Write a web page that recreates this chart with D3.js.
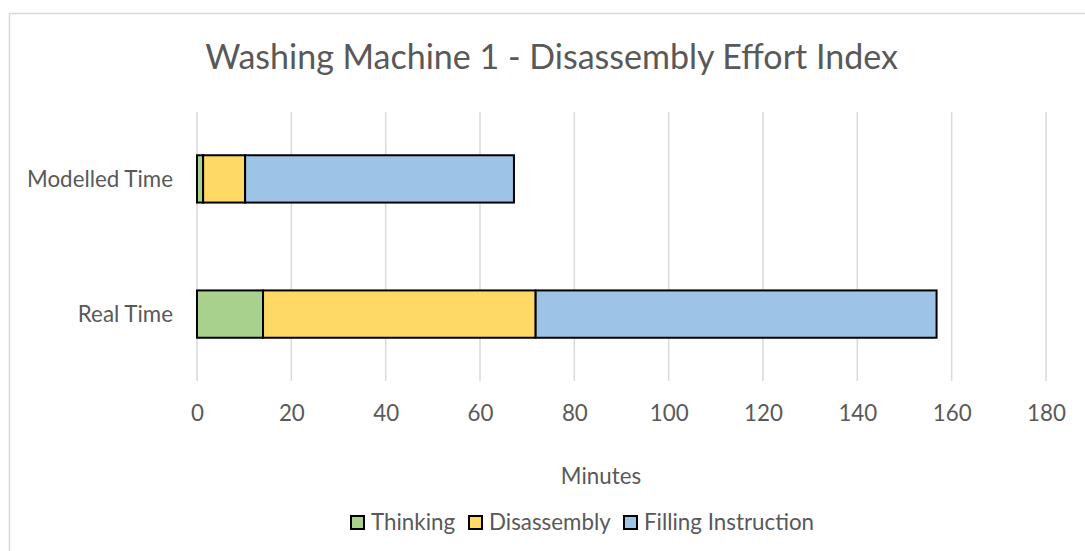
<!DOCTYPE html>
<html><head><meta charset="utf-8">
<script src="https://cdn.jsdelivr.net/npm/d3@7"></script>
<style>body{margin:0;background:#fff;}svg{display:block;}text{font-family:Lato,"Open Sans",sans-serif;fill:#595959;}</style>
</head><body><svg id="c" width="1085" height="551"></svg>
<script>
const categories = ["Modelled Time", "Real Time"];
const seriesNames = ["Thinking", "Disassembly", "Filling Instruction"];
const thinking = [1.3, 14.0];
const disassembly = [8.9, 57.8];
const filling = [57.0, 85.0];
const xTicks = [0, 20, 40, 60, 80, 100, 120, 140, 160, 180];
const colors = ["#a9d18e", "#ffd966", "#9dc3e6"];

const svg = d3.select("#c");
const FONT = 'Lato,"Open Sans",sans-serif';

// measure helper to size Lato text like the reference's Calibri
function fitSize(str, target) {
  const t = svg.append("text").attr("font-size", 100).style("font-family", FONT).text(str);
  const w = t.node().getComputedTextLength();
  t.remove();
  return 100 * target / w;
}
const titleSize = fitSize("Washing Machine 1 - Disassembly Effort Index", 693);
const labelSize = fitSize("Modelled Time", 146);

svg.append("rect").attr("x", 9.5).attr("y", 13.5).attr("width", 1100).attr("height", 600)
  .attr("fill", "#fff").attr("stroke", "#d9d9d9").attr("stroke-width", 1.5);

const x = d3.scaleLinear().domain([0, 180]).range([197, 1046]);
const y = d3.scaleBand().domain(categories).range([112, 381]).paddingInner(0.65).paddingOuter(0.32);

// gridlines
svg.append("g").selectAll("line").data(xTicks).join("line")
  .attr("x1", d => x(d)).attr("x2", d => x(d))
  .attr("y1", 112).attr("y2", 381).attr("stroke", "#d9d9d9").attr("stroke-width", 1.5);

const stackData = categories.map((c, i) => ({cat: c, Thinking: thinking[i], Disassembly: disassembly[i], "Filling Instruction": filling[i]}));
const stack = d3.stack().keys(seriesNames)(stackData);

svg.append("g").selectAll("g").data(stack).join("g")
  .attr("fill", (d, i) => colors[i])
  .selectAll("rect").data(d => d).join("rect")
  .attr("x", d => x(d[0])).attr("width", d => x(d[1]) - x(d[0]))
  .attr("y", d => y(d.data.cat)).attr("height", y.bandwidth())
  .attr("stroke", "#000").attr("stroke-width", 2);

// x axis labels
const xAxis = d3.axisBottom(x).tickValues(xTicks).tickSize(0).tickPadding(0);
const gx = svg.append("g").attr("transform", "translate(0,421)").call(xAxis);
gx.select(".domain").remove();
gx.selectAll("text").attr("font-size", labelSize).attr("dy", 0).attr("y", 0)
  .style("font-family", FONT).attr("fill", "#595959");

// y axis labels
const yAxis = d3.axisLeft(y).tickSize(0).tickPadding(0);
const gy = svg.append("g").attr("transform", "translate(173,0)").call(yAxis);
gy.select(".domain").remove();
gy.selectAll("text").attr("font-size", labelSize).attr("dy", "0.35em")
  .style("font-family", FONT).attr("fill", "#595959");

svg.append("text").attr("x", 551.5).attr("y", 69).attr("text-anchor", "middle")
  .attr("font-size", titleSize).text("Washing Machine 1 - Disassembly Effort Index");

svg.append("text").attr("x", 601).attr("y", 484).attr("text-anchor", "middle")
  .attr("font-size", labelSize).text("Minutes");

// legend
const legX = [350, 468, 623];
const lg = svg.append("g").selectAll("g").data(seriesNames).join("g")
  .attr("transform", (d, i) => `translate(${legX[i]},515)`);
lg.append("rect").attr("x", 1).attr("y", 1).attr("width", 13).attr("height", 13)
  .attr("fill", (d, i) => colors[i]).attr("stroke", "#000").attr("stroke-width", 2);
lg.append("text").attr("x", 21).attr("y", 15).attr("font-size", labelSize).text(d => d);
</script></body></html>
